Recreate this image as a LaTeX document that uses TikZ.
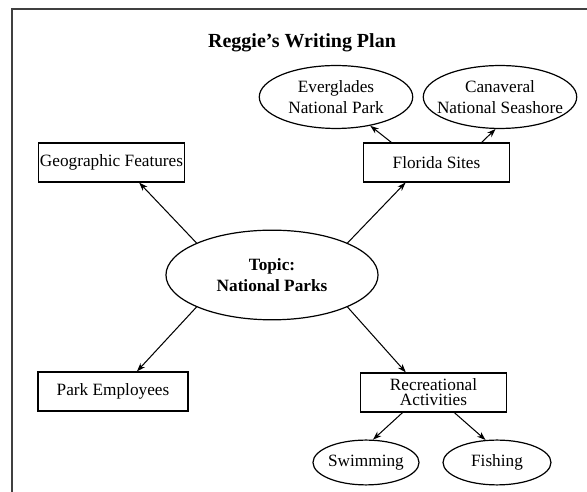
\documentclass[tikz,border=0pt]{standalone}
\usepackage{fontspec}
\setmainfont{Liberation Serif}
\usetikzlibrary{shapes.geometric,arrows.meta}

\tikzset{
  topicbox/.style={draw, rectangle, line width=0.7pt, minimum width=85pt, minimum height=22.6pt, inner sep=1pt, align=center},
  siteoval/.style={draw, ellipse, line width=0.7pt, inner xsep=-6pt, inner ysep=0pt, align=center},
  link/.style={-{Stealth[length=5pt,width=3.5pt]}, line width=0.6pt}
}

\begin{document}
\begin{tikzpicture}[x=0.58pt, y=-0.58pt]
  \useasboundingbox (0,0) rectangle (587,492);
  % frame, cut off at right and bottom
  \draw[black!75, line width=1.2pt] (12,492) -- (12,9) -- (587,9);

  % title
  \node[font=\bfseries\fontsize{11.6}{14}\selectfont, anchor=base] (title) at (302,48) {Reggie's Writing Plan};

  % topic
  \node[siteoval, minimum width=123pt, minimum height=52pt, font=\bfseries] (topic) at (272,275) {Topic:\\National Parks};

  % subtopics
  \node[topicbox] (geo) at (111.5,162.5) {Geographic Features};
  \node[topicbox] (florida) at (436.5,162.5) {Florida Sites};
  \node[topicbox, minimum width=87pt] (staff) at (113,391.5) {Park Employees};
  \node[topicbox] (recreation) at (433.5,392.5) {Recreational\\[-3.3pt]Activities};

  % details
  \node[siteoval, minimum width=89pt, minimum height=36.5pt] (everglades) at (336,97) {Everglades\\National Park};
  \node[siteoval, minimum width=89pt, minimum height=36.5pt] (canaveral) at (500,97) {Canaveral\\National Seashore};
  \node[siteoval, minimum width=61.5pt, minimum height=26pt] (swim) at (366,462.5) {Swimming};
  \node[siteoval, minimum width=62.6pt, minimum height=26pt] (fish) at (497,462.5) {Fishing};

  % connections
  \draw[link] (topic.157) -- (geo.-36);
  \draw[link] (topic.23) -- (florida.213);
  \draw[link] (topic.203) -- (staff.40);
  \draw[link] (topic.-23) -- (recreation.144);
  \draw[link] (florida.156) -- (everglades.-40);
  \draw[link] (florida.24) -- (canaveral.262);
  \draw[link] (recreation.213) -- (swim.73);
  \draw[link] (recreation.-44) -- (fish.117);
\end{tikzpicture}
\end{document}
